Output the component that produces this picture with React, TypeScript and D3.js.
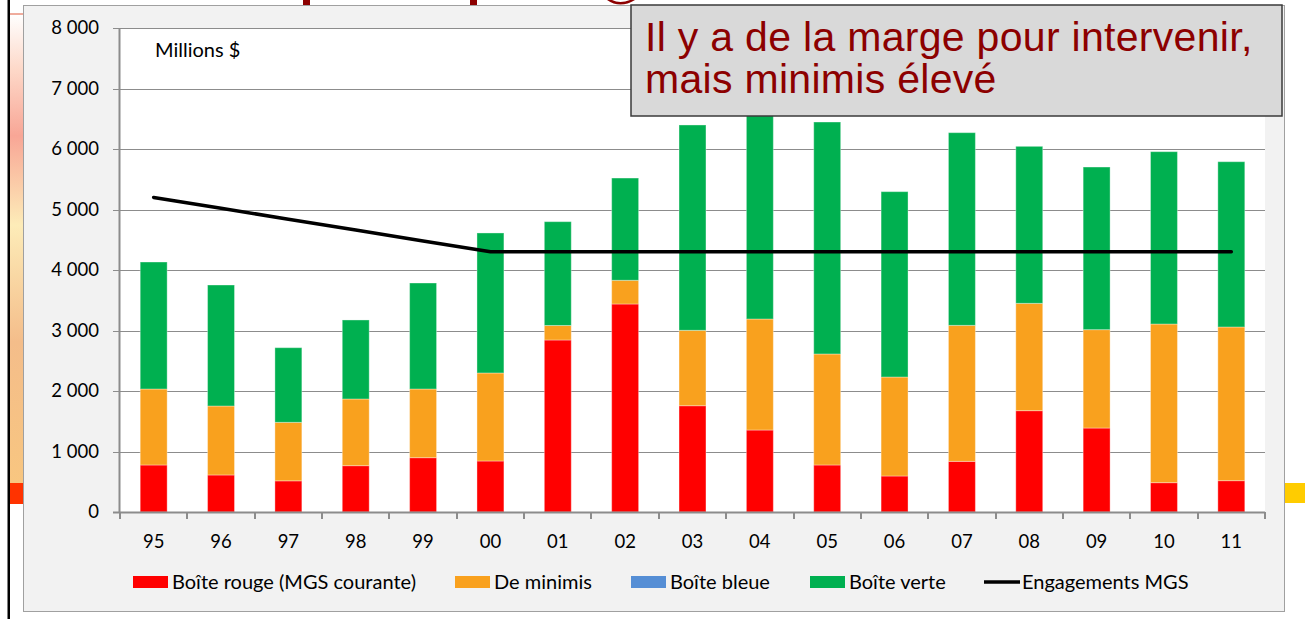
import React, { useRef, useEffect } from "react";
import * as d3 from "d3";

const width = 1305;
const height = 619;

// années (axe des x)
const years = ["95", "96", "97", "98", "99", "00", "01", "02", "03", "04", "05", "06", "07", "08", "09", "10", "11"];

// millions $ par boîte
const rouge = [777, 612, 515, 766, 898, 843, 2843, 3438, 1757, 1355, 777, 595, 837, 1675, 1388, 485, 518];
const minimis = [1256, 1140, 967, 1102, 1135, 1455, 240, 392, 1246, 1835, 1835, 1636, 2248, 1774, 1626, 2622, 2540];
const bleue = [0, 0, 0, 0, 0, 0, 0, 0, 0, 0, 0, 0, 0, 0, 0, 0, 0];
const verte = [2099, 2000, 1234, 1306, 1752, 2314, 1716, 1690, 3394, 3430, 3834, 3064, 3185, 2595, 2688, 2849, 2732];

// engagements MGS
const engagements = [5200, 5020, 4840, 4660, 4480, 4300, 4300, 4300, 4300, 4300, 4300, 4300, 4300, 4300, 4300, 4300, 4300];

const yTicks = [0, 1000, 2000, 3000, 4000, 5000, 6000, 7000, 8000];

const seriesNames = ["Boîte rouge (MGS courante)", "De minimis", "Boîte bleue", "Boîte verte"];
const seriesColors = ["#ff0000", "#f9a11e", "#558ed5", "#00b050"];

const margin = { left: 120, right: 1265, top: 28, bottom: 512 };

export default function App() {
  const svgRef = useRef<SVGSVGElement>(null);

  useEffect(() => {
    if (!svgRef.current) return;
    const svg = d3.select(svgRef.current);
    svg.selectAll("*").remove();

    const font = "Lato, 'Open Sans', sans-serif";

    // fond de la diapo (débris autour du graphique)
    const defs = svg.append("defs");
    const grad = defs.append("linearGradient")
      .attr("id", "slideGrad").attr("x1", 0).attr("y1", 0).attr("x2", 0).attr("y2", 1);
    [[0, "#ffffff"], [0.12, "#fdd8c8"], [0.26, "#f8a696"], [0.45, "#fdecb8"], [0.7, "#f4bd8a"], [1, "#f8c680"]]
      .forEach(([o, c]) => grad.append("stop").attr("offset", o as number).attr("stop-color", c as string));

    svg.append("rect").attr("x", 0).attr("y", 0).attr("width", width).attr("height", height).attr("fill", "#ffffff");
    svg.append("rect").attr("x", 10).attr("y", 14).attr("width", 14).attr("height", 469).attr("fill", "url(#slideGrad)");
    svg.append("line").attr("x1", 10).attr("x2", 24).attr("y1", 14).attr("y2", 14).attr("stroke", "#e0583a").attr("stroke-width", 1);
    svg.append("rect").attr("x", 10).attr("y", 483).attr("width", 14).attr("height", 21).attr("fill", "#ff3300");
    svg.append("rect").attr("x", 1284).attr("y", 483).attr("width", 21).attr("height", 20).attr("fill", "#ffcc00");
    svg.append("rect").attr("x", 7.5).attr("y", 0).attr("width", 2.5).attr("height", height).attr("fill", "#000");
    // bouts du titre qui dépassent
    svg.append("rect").attr("x", 303).attr("y", 0).attr("width", 7).attr("height", 6).attr("fill", "#8c0000");
    svg.append("rect").attr("x", 470).attr("y", 0).attr("width", 7).attr("height", 6).attr("fill", "#8c0000");
    svg.append("path").attr("d", "M607,0 Q620,9 635,0 L630,0 Q620,4 612,0 Z").attr("fill", "#8c0000");

    // cadre du graphique
    svg.append("rect")
      .attr("x", 23.5).attr("y", 5.5).attr("width", 1261).attr("height", 606)
      .attr("fill", "#f2f2f2").attr("stroke", "#a0a0a0").attr("stroke-width", 1);

    // zone de traçage
    svg.append("rect")
      .attr("x", margin.left).attr("y", margin.top)
      .attr("width", margin.right - margin.left).attr("height", margin.bottom - margin.top)
      .attr("fill", "#ffffff");

    const x = d3.scaleBand().domain(years).range([margin.left, margin.right]).paddingInner(0.6).paddingOuter(0.3);
    const y = d3.scaleLinear().domain([0, 8000]).range([margin.bottom, margin.top]);

    // grille
    svg.append("g").selectAll("line").data(yTicks.filter(d => d > 0)).join("line")
      .attr("x1", margin.left - 7).attr("x2", margin.right)
      .attr("y1", d => Math.round(y(d)) + 0.5).attr("y2", d => Math.round(y(d)) + 0.5)
      .attr("stroke", "#8c8c8c").attr("stroke-width", 1);

    // étiquettes y
    const fmt = (v: number) => d3.format(",")(v).replace(/,/g, " ");
    svg.append("g").selectAll("text").data(yTicks).join("text")
      .attr("x", 99).attr("y", d => y(d)).attr("dy", "0.35em")
      .attr("text-anchor", "end")
      .style("font-family", font).style("font-size", "18.5px").attr("fill", "#000")
      .text(d => fmt(d));

    // barres empilées
    const rows = years.map((yr, i) => ({ year: yr, r: rouge[i], m: minimis[i], b: bleue[i], v: verte[i] }));
    const stack = d3.stack<any>().keys(["r", "m", "b", "v"]);
    const layers = stack(rows);

    svg.append("g").selectAll("g").data(layers).join("g")
      .attr("fill", (d, i) => seriesColors[i])
      .selectAll("rect").data(d => d.filter(p => p[1] - p[0] > 0)).join("rect")
      .attr("x", d => x(d.data.year)!)
      .attr("width", x.bandwidth())
      .attr("y", d => y(d[1]))
      .attr("height", d => y(d[0]) - y(d[1]))
      .attr("stroke", "#ffffff").attr("stroke-opacity", 0.35).attr("stroke-width", 1);

    // axes
    svg.append("line")
      .attr("x1", margin.left - 0.5).attr("x2", margin.left - 0.5)
      .attr("y1", margin.top).attr("y2", margin.bottom + 1)
      .attr("stroke", "#8c8c8c").attr("stroke-width", 2);
    svg.append("line")
      .attr("x1", margin.left - 7).attr("x2", margin.right)
      .attr("y1", margin.bottom + 0.5).attr("y2", margin.bottom + 0.5)
      .attr("stroke", "#8c8c8c").attr("stroke-width", 2);
    svg.append("line")
      .attr("x1", margin.left - 7).attr("x2", margin.left)
      .attr("y1", Math.round(y(8000)) + 0.5).attr("y2", Math.round(y(8000)) + 0.5)
      .attr("stroke", "#8c8c8c");

    const step = x.step();
    const bounds = d3.range(years.length + 1).map(i => margin.left + i * step);
    svg.append("g").selectAll("line").data(bounds).join("line")
      .attr("x1", d => Math.round(d)).attr("x2", d => Math.round(d))
      .attr("y1", margin.bottom).attr("y2", margin.bottom + 7)
      .attr("stroke", "#8c8c8c").attr("stroke-width", 2);

    svg.append("g").selectAll("text").data(years).join("text")
      .attr("x", d => x(d)! + x.bandwidth() / 2).attr("y", 548)
      .attr("text-anchor", "middle")
      .style("font-family", font).style("font-size", "18.5px").attr("fill", "#000")
      .text(d => d);

    // ligne des engagements
    const line = d3.line<number>()
      .x((d, i) => x(years[i])! + x.bandwidth() / 2)
      .y(d => y(d));
    svg.append("path")
      .datum(engagements)
      .attr("d", line)
      .attr("fill", "none").attr("stroke", "#000").attr("stroke-width", 3.5)
      .attr("stroke-linecap", "round").attr("stroke-linejoin", "round");

    svg.append("text")
      .attr("x", 155).attr("y", 57)
      .style("font-family", font).style("font-size", "20px").attr("fill", "#000")
      .text("Millions $");

    // légende
    const legendX = [133, 455, 631, 810];
    const lg = svg.append("g");
    seriesNames.forEach((name, i) => {
      lg.append("rect").attr("x", legendX[i]).attr("y", 576).attr("width", 35).attr("height", 12).attr("fill", seriesColors[i]);
      lg.append("text").attr("x", legendX[i] + 39).attr("y", 589)
        .style("font-family", font).style("font-size", "20px").attr("fill", "#000").text(name);
    });
    lg.append("line").attr("x1", 984).attr("x2", 1020).attr("y1", 582).attr("y2", 582)
      .attr("stroke", "#000").attr("stroke-width", 3.5);
    lg.append("text").attr("x", 1022).attr("y", 589)
      .style("font-family", font).style("font-size", "20px").attr("fill", "#000").text("Engagements MGS");

    // encadré
    svg.append("rect")
      .attr("x", 631).attr("y", 5).attr("width", 651).attr("height", 111)
      .attr("fill", "#d9d9d9").attr("stroke", "#3a3a3a").attr("stroke-width", 1.5);
    const noteStyle = (t: any) => t
      .style("font-family", "'Liberation Sans', Arial, sans-serif").style("font-size", "41px")
      .style("letter-spacing", "0.3px").attr("fill", "#8c0000");
    noteStyle(svg.append("text").attr("x", 645).attr("y", 51)).text("Il y a de la marge pour intervenir,");
    noteStyle(svg.append("text").attr("x", 645).attr("y", 93)).text("mais minimis élevé");
  }, []);

  return (
    <svg
      ref={svgRef}
      width={width}
      height={height}
      style={{ position: "absolute", left: 0, top: 0 }}
    ></svg>
  );
}
